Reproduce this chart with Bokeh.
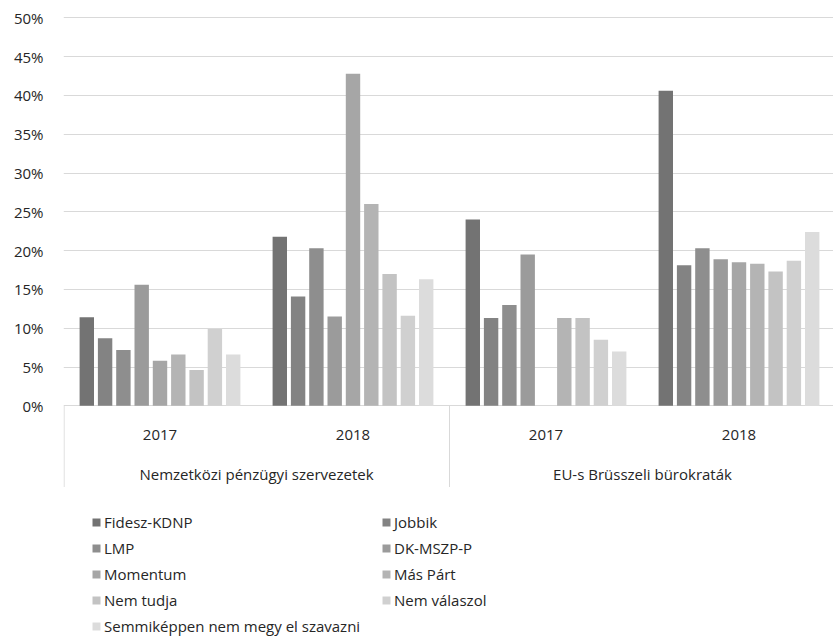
from bokeh.plotting import figure
from bokeh.models import (Range1d, FixedTicker, NumeralTickFormatter, Legend,
                          LegendItem, ColumnDataSource)
from bokeh.core.properties import value
from bokeh.embed import file_html
from bokeh.resources import INLINE

# ---------------- data ----------------
categories = ["Nemzetközi pénzügyi szervezetek", "EU-s Brüsszeli bürokraták"]
years = ["2017", "2018"]
series = ["Fidesz-KDNP", "Jobbik", "LMP", "DK-MSZP-P", "Momentum",
          "Más Párt", "Nem tudja", "Nem válaszol",
          "Semmiképpen nem megy el szavazni"]
# values in %, order: (cat1,2017), (cat1,2018), (cat2,2017), (cat2,2018)
fidesz = [11.4, 21.8, 24.0, 40.6]
jobbik = [8.7, 14.1, 11.3, 18.1]
lmp = [7.2, 20.3, 13.0, 20.3]
dk = [15.6, 11.5, 19.5, 18.9]
momentum = [5.8, 42.8, 0.0, 18.5]
mas_part = [6.6, 26.0, 11.3, 18.3]
nem_tudja = [4.6, 17.0, 11.3, 17.3]
nem_valaszol = [9.9, 11.6, 8.5, 18.7]
semmikeppen = [6.6, 16.3, 7.0, 22.4]
values = [fidesz, jobbik, lmp, dk, momentum, mas_part, nem_tudja,
          nem_valaszol, semmikeppen]
y_ticks = [0, 0.05, 0.10, 0.15, 0.20, 0.25, 0.30, 0.35, 0.40, 0.45, 0.50]

colors = ["#737373", "#838383", "#8e8e8e", "#9b9b9b", "#a6a6a6",
          "#b4b4b4", "#c3c3c3", "#d0d0d0", "#dcdcdc"]

# ---------------- layout ----------------
FONT = "Open Sans"
FS = "15px"
TEXT = "#262626"
GRID = "#d9d9d9"

W, H = 833, 640
BL, BT = 63, 12                 # borders -> frame left/top
frame_w = W - BL
frame_h = H - BT
group_px = 193.0                # pixels per category group
y_px = 776.0                    # pixels per 100 %
zero_px = 405.3 - BT            # 0 % line from frame top
y_top = zero_px / y_px
y_bot = -(frame_h - zero_px) / y_px

n_groups = len(categories) * len(years)
pitch = 18.3 / group_px
bar_w = 14.4 / group_px

p = figure(width=W, height=H, output_backend="svg", toolbar_location=None,
           x_range=Range1d(0, frame_w / group_px),
           y_range=Range1d(y_bot, y_top),
           x_axis_type=None,
           min_border_left=BL, min_border_right=0,
           min_border_top=BT, min_border_bottom=0)
p.outline_line_color = None
p.background_fill_color = "white"
p.border_fill_color = "white"

ax = p.yaxis[0]
ax.ticker = FixedTicker(ticks=y_ticks)
ax.formatter = NumeralTickFormatter(format="0%")
ax.axis_line_color = None
ax.major_tick_line_color = None
ax.minor_tick_line_color = None
ax.major_tick_out = 0
ax.major_label_standoff = 20
ax.major_label_text_font = FONT
ax.major_label_text_font_size = FS
ax.major_label_text_color = TEXT

p.xgrid.visible = False
p.ygrid.ticker = FixedTicker(ticks=y_ticks)
p.ygrid.grid_line_color = GRID
p.ygrid.grid_line_width = 1

renderers = []
for i, (name, vals, col) in enumerate(zip(series, values, colors)):
    src = ColumnDataSource(dict(
        x=[g + 0.5 + (i - (len(series) - 1) / 2) * pitch for g in range(n_groups)],
        top=[v / 100 for v in vals]))
    r = p.vbar(x="x", top="top", bottom=0, width=bar_w, source=src,
               fill_color=col, line_color=None)
    renderers.append(r)

# category axis separators
sep_bottom = -(486.5 - 405.3) / y_px
sep_x = [0.003] + [k * len(years) for k in range(1, len(categories) + 1)]
p.segment(x0=sep_x, y0=[0] * len(sep_x), x1=sep_x, y1=[sep_bottom] * len(sep_x),
          line_color=GRID, line_width=1)

# year labels and category labels
year_y = -(434 - 405.3) / y_px
cat_y = -(473 - 405.3) / y_px
p.text(x=[g + 0.5 for g in range(n_groups)], y=[year_y] * n_groups,
       text=years * len(categories), text_font=value(FONT),
       text_font_size=FS, text_color=TEXT, text_align="center",
       text_baseline="middle")
p.text(x=[k * len(years) + len(years) / 2 for k in range(len(categories))],
       y=[cat_y] * len(categories), text=categories, text_font=value(FONT),
       text_font_size=FS, text_color=TEXT, text_align="center",
       text_baseline="middle")

# legends (two columns)
LH, SP = 21, 5


def make_legend(idx, loc):
    return Legend(items=[LegendItem(label=series[k], renderers=[renderers[k]])
                         for k in idx],
                  location=loc, orientation="vertical",
                  background_fill_alpha=0, border_line_color=None,
                  padding=0, margin=0, spacing=SP, label_height=LH,
                  glyph_width=10, glyph_height=10, label_standoff=3,
                  label_text_font=FONT, label_text_font_size=FS,
                  label_text_color=TEXT)


col1 = [0, 2, 4, 6, 8]
col2 = [1, 3, 5, 7]
top1 = 511.5


def bottom_offset(n):
    return H - (top1 + n * LH + (n - 1) * SP)


p.add_layout(make_legend(col1, (91 - BL, bottom_offset(len(col1)))), "center")
p.add_layout(make_legend(col2, (381 - BL, bottom_offset(len(col2)))), "center")

open("out.html", "w").write(file_html(p, INLINE))
